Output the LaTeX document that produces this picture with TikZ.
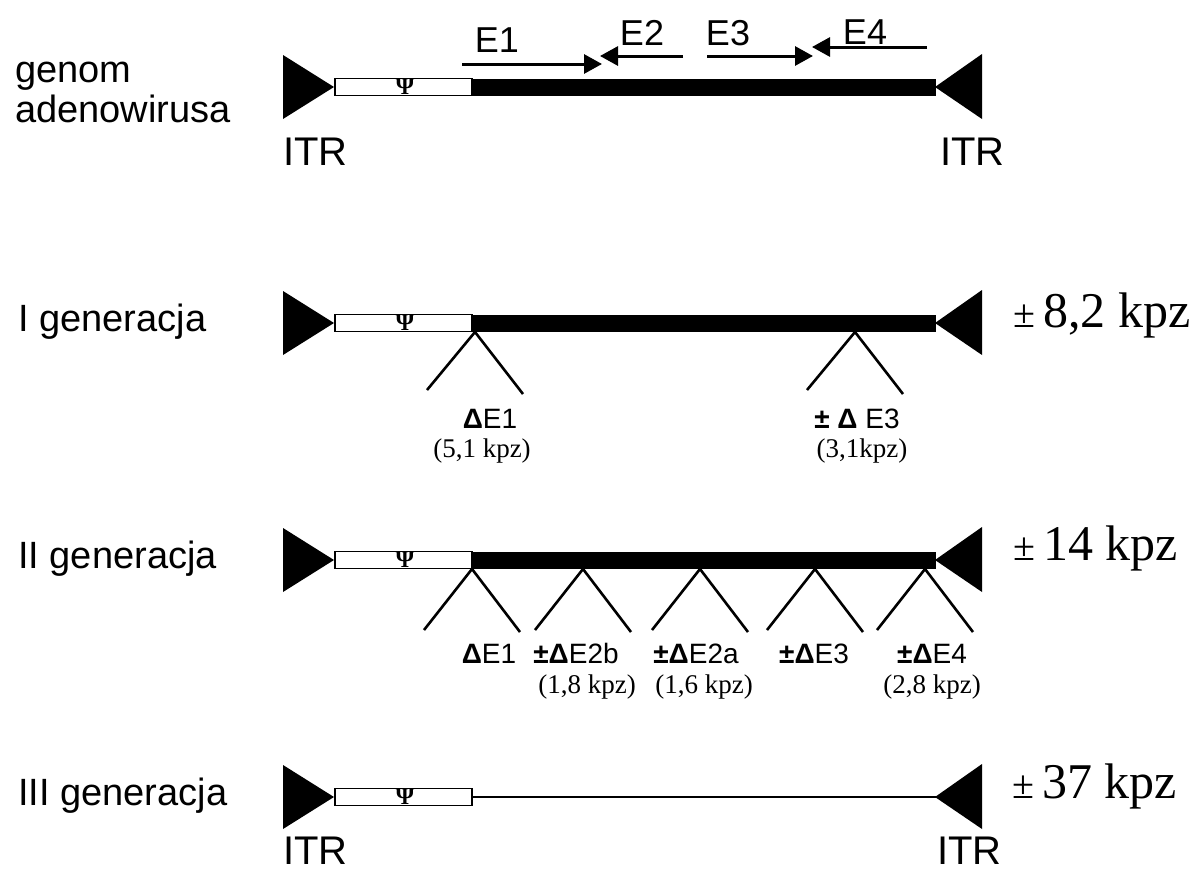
\documentclass[tikz,border=0pt]{standalone}
\usepackage{fontspec}
\setmainfont{Liberation Sans}
\newfontfamily\seriffont{Liberation Serif}
\usetikzlibrary{arrows.meta}
\begin{document}
\begin{tikzpicture}[x=1pt,y=-1pt,
  lbl/.style={anchor=base west,inner sep=0pt,font=\fontsize{38}{40}\selectfont},
  itr/.style={anchor=base west,inner sep=0pt,font=\fontsize{40}{40}\selectfont},
  elbl/.style={anchor=base,inner sep=0pt,font=\fontsize{36}{36}\selectfont},
  small/.style={anchor=base,inner sep=0pt,font=\fontsize{28}{28}\selectfont},
  kpz/.style={anchor=base,inner sep=0pt,font=\seriffont\fontsize{27}{27}\selectfont},
  big/.style={anchor=base west,inner sep=0pt,font=\seriffont\fontsize{50}{50}\selectfont},
  psi/.style={inner sep=0pt,font=\seriffont\bfseries\fontsize{24}{24}\selectfont},
  earrow/.style={line width=3pt,-{Triangle[length=18pt,width=19pt]}},
  vdel/.style={line width=2.6pt},
  boxst/.style={draw=black,fill=white,line width=1.2pt}]
\useasboundingbox (0,0) rectangle (1195,873);
\newcommand{\pmd}{\textbf{±Δ}}
% rows
\foreach \y/\full in {87/1,323/1,560/1,797/0}{
  \fill (283,\y-32) -- (283,\y+32) -- (334,\y) -- cycle;
  \fill (982,\y-33) -- (982,\y+32) -- (935,\y) -- cycle;
  \ifnum\full=1
    \fill (472,\y-8.5) rectangle (936,\y+8.5);
  \else
    \draw[line width=1.5pt] (472,\y) -- (936,\y);
  \fi
  \draw[boxst] (335,\y-8.5) rectangle (472,\y+8.5);
  \node[psi,anchor=base] at (405,\y+7) {Ψ};
}
% row labels
\node[lbl] (genom1) at (15,82) {genom};
\node[lbl] (genom2) at (15,122) {adenowirusa};
\node[lbl] (g1) at (18,331) {I generacja};
\node[lbl] (g2) at (18,568) {II generacja};
\node[lbl] (g3) at (18,805) {III generacja};
% ITR labels
\node[itr] (itr1) at (283,165) {ITR};
\node[itr] (itr2) at (940,165) {ITR};
\node[itr] (itr3) at (283,864) {ITR};
\node[itr] (itr4) at (937,864) {ITR};
% E arrows
\coordinate (e1s) at (462,64); \coordinate (e1e) at (602,64);
\coordinate (e2s) at (683,56); \coordinate (e2e) at (600,56);
\coordinate (e3s) at (707,56); \coordinate (e3e) at (813,56);
\coordinate (e4s) at (927,47); \coordinate (e4e) at (812,47);
\draw[earrow] (e1s) -- (e1e);
\draw[earrow] (e2s) -- (e2e);
\draw[earrow] (e3s) -- (e3e);
\draw[earrow] (e4s) -- (e4e);
\node[elbl] (E1) at (497,52) {E1};
\node[elbl] (E2) at (642,45) {E2};
\node[elbl] (E3) at (728,45) {E3};
\node[elbl] (E4) at (865,44) {E4};
% sizes
\node[big] (s1) at (1013,327) {{\fontsize{40}{40}\selectfont ±}\,8,2 kpz};
\node[big] (s2) at (1013,560) {{\fontsize{40}{40}\selectfont ±}\,14 kpz};
\node[big] (s3) at (1012,798) {{\fontsize{40}{40}\selectfont ±}\,37 kpz};
% deletions generation I
\foreach \x in {475,855}{
  \draw[vdel] (\x-48,390) -- (\x,332) -- (\x+48,394);
}
\node[small] (d1) at (490,428) {\textbf{Δ}E1};
\node[kpz] (k1) at (482,457) {(5,1 kpz)};
\node[small] (d2) at (857,428) {\textbf{± Δ} E3};
\node[kpz] (k2) at (862,457) {(3,1kpz)};
% deletions generation II
\foreach \x in {472,583,700,815,925}{
  \draw[vdel] (\x-48,630) -- (\x,569) -- (\x+48,632);
}
\node[small] (f1) at (489,663) {\textbf{Δ}E1};
\node[small] (f2) at (576,663) {\pmd E2b};
\node[small] (f3) at (696,663) {\pmd E2a};
\node[small] (f4) at (814,663) {\pmd E3};
\node[small] (f5) at (932,663) {\pmd E4};
\node[kpz] (h1) at (587,693) {(1,8 kpz)};
\node[kpz] (h2) at (704,693) {(1,6 kpz)};
\node[kpz] (h3) at (932,693) {(2,8 kpz)};
\end{tikzpicture}
\end{document}
